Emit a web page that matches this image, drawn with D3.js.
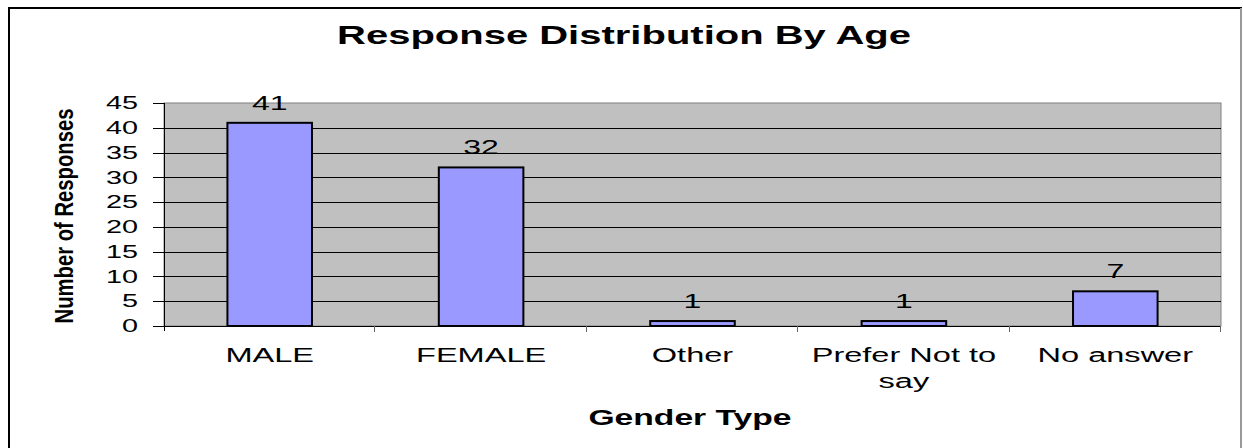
<!DOCTYPE html>
<html>
<head>
<meta charset="utf-8">
<title>Response Distribution By Age</title>
<style>
  body { margin: 0; background: #fff; }
  svg { display: block; font-family: "Liberation Sans", Arial, sans-serif; }
  .grid line { stroke: #000; stroke-width: 1px; shape-rendering: crispEdges; }
  .axis path, .axis line { stroke: #000; shape-rendering: crispEdges; }
</style>
</head>
<body>
<svg width="1243" height="448"></svg>
<script src="https://d3js.org/d3.v7.min.js"></script>
<script>
// chart data
var categories = ["MALE", "FEMALE", "Other", "Prefer Not to say", "No answer"];
var labelLines = [["MALE"], ["FEMALE"], ["Other"], ["Prefer Not to", "say"], ["No answer"]];
var responses = [41, 32, 1, 1, 7];
var yTicks = [0, 5, 10, 15, 20, 25, 30, 35, 40, 45];

(function() {
  var svg = d3.select("svg"),
      sx = 1.6, // the original picture is stretched sideways
      plot = {left: 164, right: 1221, top: 103, bottom: 326};

  // outer frame
  svg.append("rect")
    .attr("x", 9).attr("y", 8)
    .attr("width", 1232).attr("height", 460)
    .attr("fill", "#fff").attr("stroke", "#000").attr("stroke-width", 2);
  svg.append("line")
    .attr("x1", 1241).attr("x2", 1241).attr("y1", 8).attr("y2", 448)
    .attr("stroke", "#999").attr("stroke-width", 2);

  var x = d3.scaleBand()
    .domain(categories)
    .range([plot.left, plot.right])
    .paddingInner(0.6)
    .paddingOuter(0.3);

  var y = d3.scaleLinear()
    .domain([0, 45])
    .range([plot.bottom, plot.top]);

  // plot background
  svg.append("rect")
    .attr("x", plot.left).attr("y", plot.top)
    .attr("width", plot.right - plot.left).attr("height", plot.bottom - plot.top)
    .attr("fill", "#c0c0c0").attr("stroke", "#808080").attr("stroke-width", 1);

  // gridlines
  svg.append("g")
    .attr("class", "grid")
    .selectAll("line")
    .data(yTicks.filter(function(d) { return d > 0 && d < 45; }))
    .enter().append("line")
      .attr("x1", plot.left).attr("x2", plot.right)
      .attr("y1", function(d) { return Math.round(y(d)) + 0.5; })
      .attr("y2", function(d) { return Math.round(y(d)) + 0.5; });

  // bars
  svg.append("g")
    .selectAll("rect")
    .data(responses)
    .enter().append("rect")
      .attr("x", function(d, i) { return x(categories[i]); })
      .attr("y", function(d) { return y(d); })
      .attr("width", x.bandwidth())
      .attr("height", function(d) { return y(0) - y(d); })
      .attr("fill", "#9999ff")
      .attr("stroke", "#000")
      .attr("stroke-width", 2);

  // value labels
  svg.append("g")
    .selectAll("text")
    .data(responses)
    .enter().append("text")
      .attr("transform", function(d, i) {
        return "translate(" + (x(categories[i]) + x.bandwidth() / 2) + "," + (y(d) - 13) + ") scale(" + sx + ",1)";
      })
      .attr("text-anchor", "middle")
      .attr("font-size", 20)
      .attr("fill", "#000")
      .text(function(d) { return d; });

  // y axis
  var yAxis = svg.append("g")
    .attr("class", "axis")
    .attr("transform", "translate(" + plot.left + ",0)")
    .call(d3.axisLeft(y).tickValues(yTicks).tickSize(11).tickSizeOuter(0));
  yAxis.select(".domain").attr("d", "M0.5," + plot.top + "V" + (plot.bottom + 5));
  yAxis.selectAll(".tick text")
    .attr("x", 0)
    .attr("transform", "translate(-26,0) scale(" + sx + ",1)")
    .attr("font-size", 18)
    .attr("font-family", "Liberation Sans, Arial, sans-serif")
    .attr("fill", "#000");

  // x axis line and category separators
  var step = x.step();
  var seps = d3.range(categories.length + 1).map(function(i) { return plot.left + i * step; });
  svg.append("line")
    .attr("x1", plot.left).attr("x2", plot.right)
    .attr("y1", plot.bottom + 0.5).attr("y2", plot.bottom + 0.5)
    .attr("stroke", "#000");
  svg.append("g")
    .selectAll("line")
    .data(seps.slice(1))
    .enter().append("line")
      .attr("x1", function(d) { return Math.round(d) - 0.5; })
      .attr("x2", function(d) { return Math.round(d) - 0.5; })
      .attr("y1", plot.bottom).attr("y2", plot.bottom + 6)
      .attr("stroke", "#666");

  // category labels
  var catLabels = svg.append("g")
    .selectAll("text")
    .data(labelLines)
    .enter().append("text")
      .attr("transform", function(d, i) {
        return "translate(" + (x(categories[i]) + x.bandwidth() / 2) + ",362) scale(" + (sx - 0.05) + ",1)";
      })
      .attr("text-anchor", "middle")
      .attr("font-size", 21)
      .attr("fill", "#000");
  catLabels.selectAll("tspan")
    .data(function(d) { return d; })
    .enter().append("tspan")
      .attr("x", 0)
      .attr("y", function(d, i) { return i * 26; })
      .text(function(d) { return d; });

  // title
  svg.append("text")
    .attr("transform", "translate(624,44) scale(" + sx + ",1)")
    .attr("text-anchor", "middle")
    .attr("font-size", 25)
    .attr("font-weight", "bold")
    .text("Response Distribution By Age");

  // x axis title
  svg.append("text")
    .attr("transform", "translate(690,425) scale(1.53,1)")
    .attr("text-anchor", "middle")
    .attr("font-size", 22)
    .attr("font-weight", "bold")
    .text("Gender Type");

  // y axis title
  svg.append("text")
    .attr("transform", "translate(73,216) rotate(-90) scale(1,1.6)")
    .attr("text-anchor", "middle")
    .attr("font-size", 16)
    .attr("font-weight", "bold")
    .attr("textLength", 215)
    .attr("lengthAdjust", "spacingAndGlyphs")
    .text("Number of Responses");
})();
</script>
</body>
</html>
